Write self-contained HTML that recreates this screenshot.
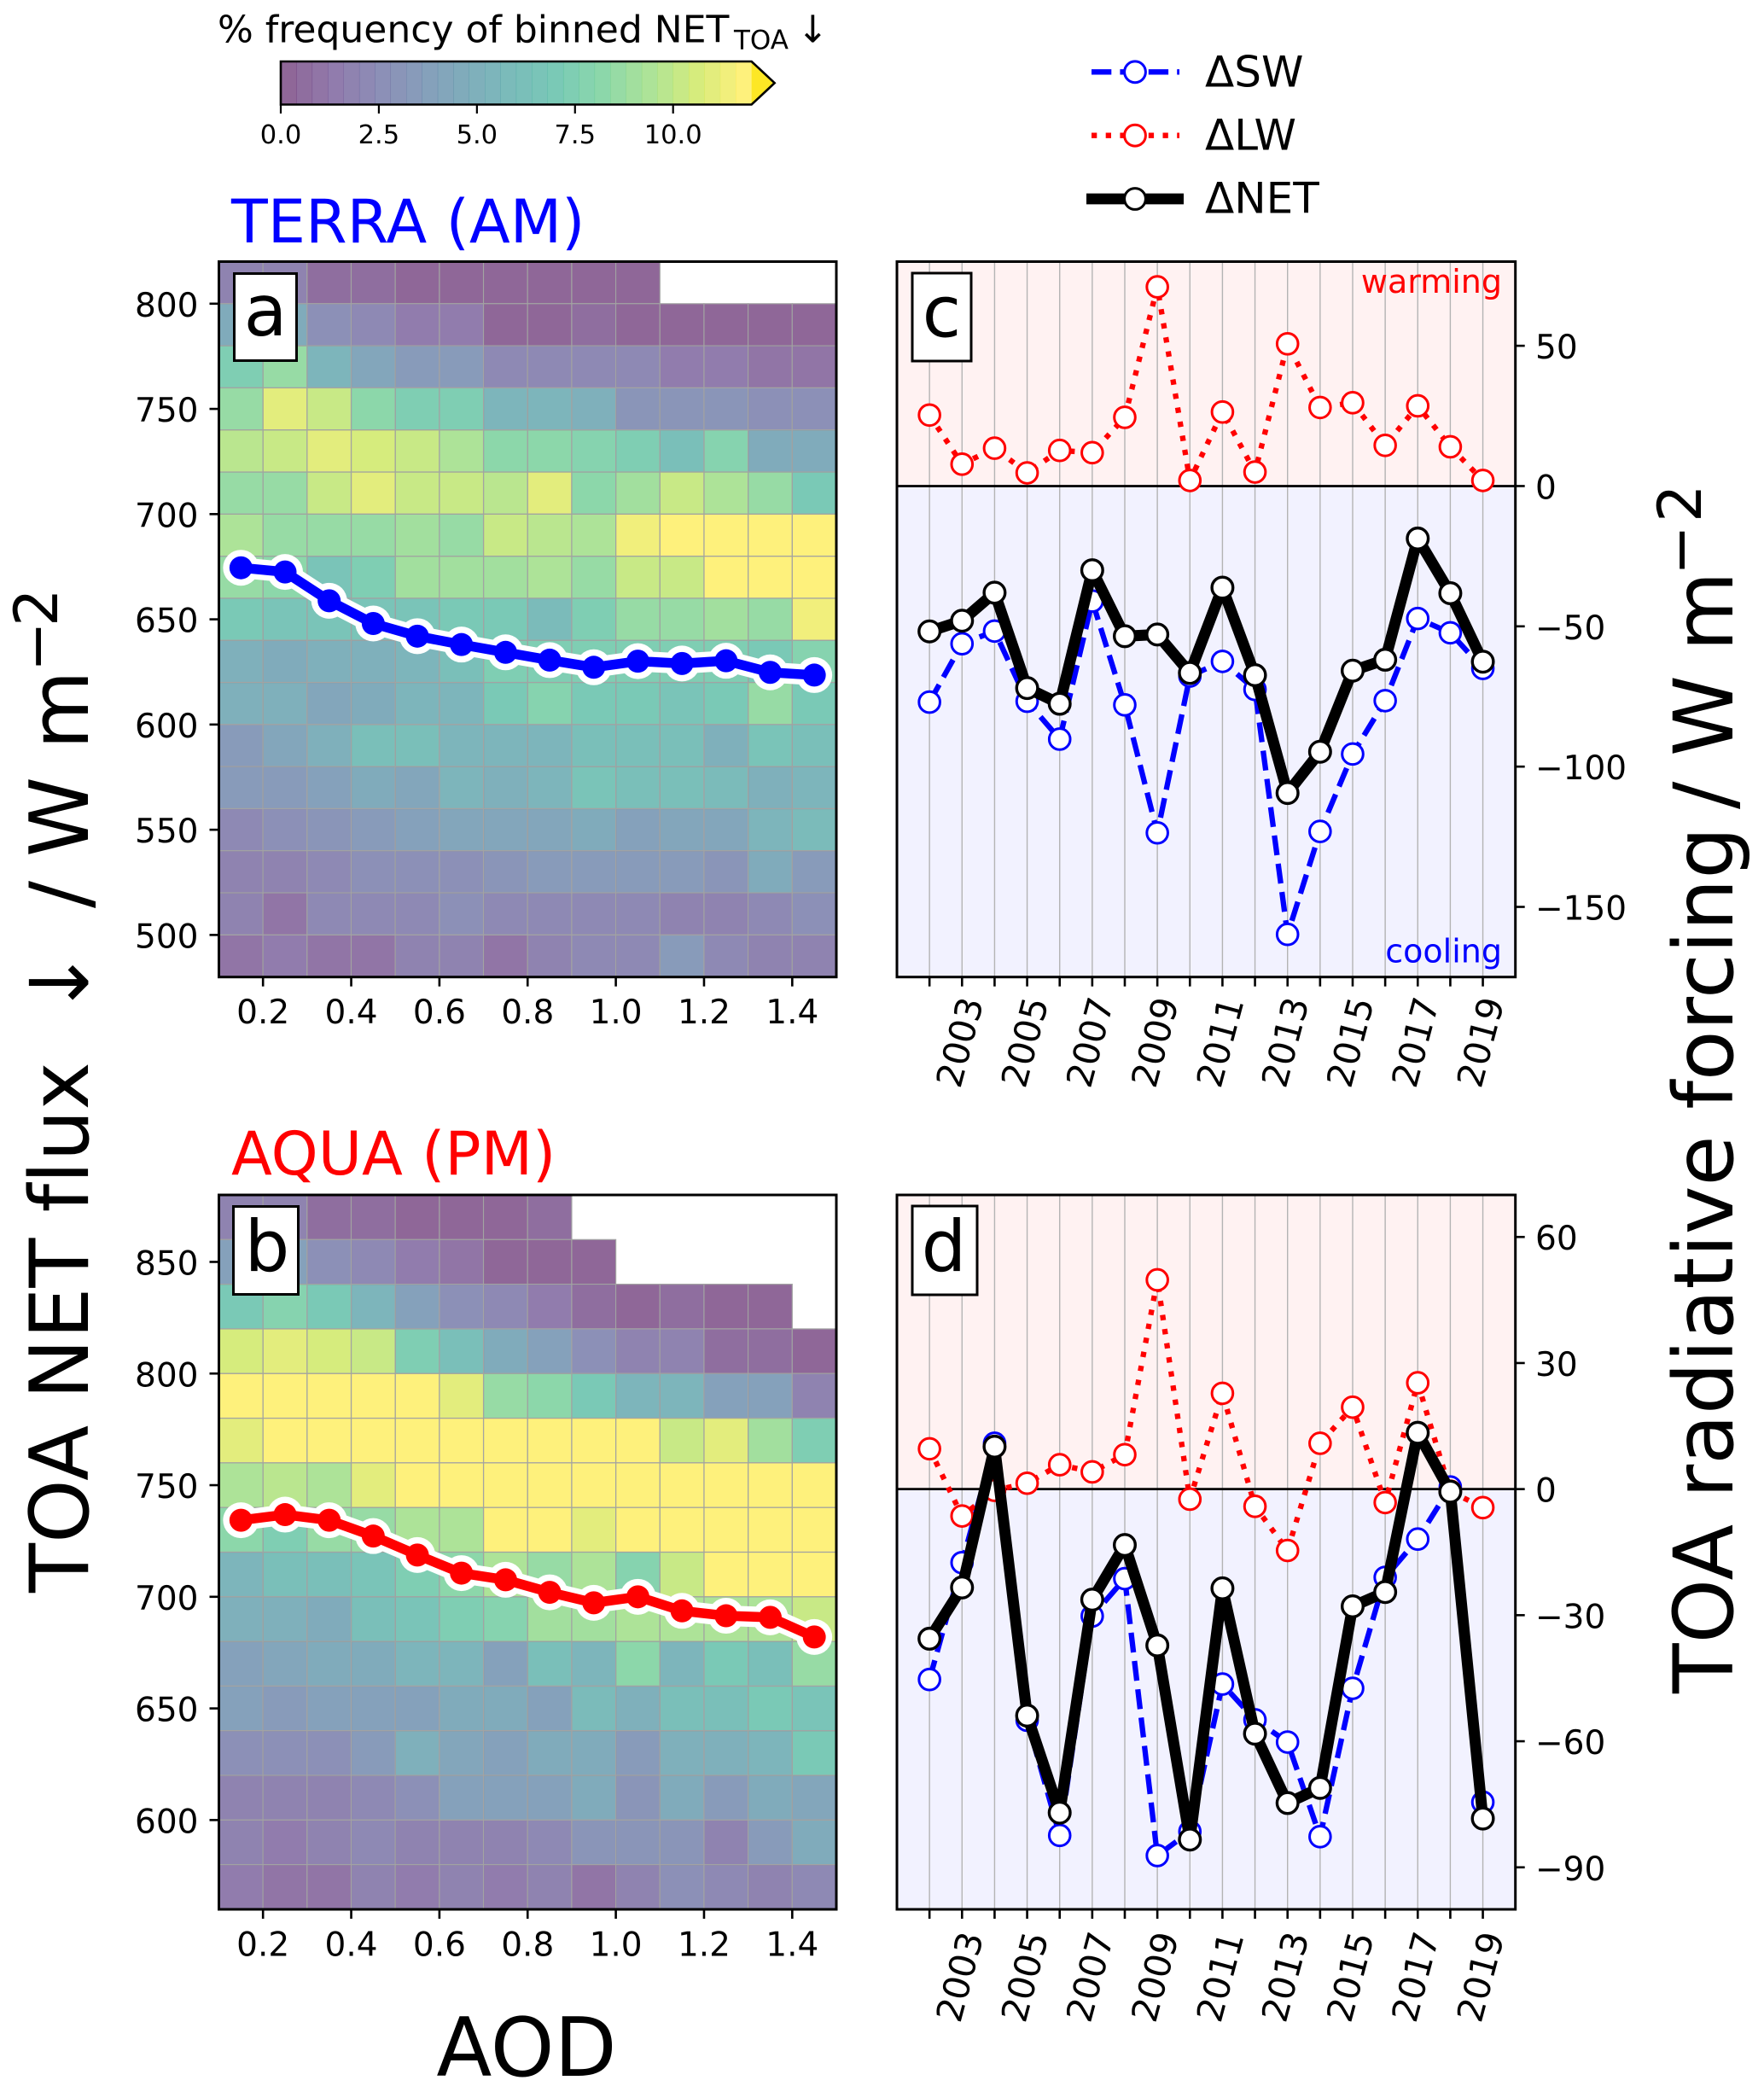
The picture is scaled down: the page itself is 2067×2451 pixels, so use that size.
<!DOCTYPE html>
<html lang="en">
<head>
<meta charset="utf-8">
<title>TOA radiative forcing figure</title>
<style>
html,body{margin:0;padding:0;background:#fff;}
svg{display:block;font-family:"DejaVu Sans","Liberation Sans",sans-serif;font-variant-ligatures:none;}
</style>
</head>
<body>
<svg id="fig" xmlns="http://www.w3.org/2000/svg" width="2067" height="2451" viewBox="0 0 2067 2451">
  <rect x="0" y="0" width="2067" height="2451" fill="#fff"/>

  <g id="colorbar"></g>
  <text x="255" y="49.5" font-size="44">% frequency of binned NET<tspan x="860" y="57.5" font-size="31">TOA</tspan><tspan x="934" y="49.5" font-size="44">↓</tspan></text>

  <text x="271" y="284" font-size="70" fill="#0000ff">TERRA (AM)</text>
  <text x="271" y="1376" font-size="70" fill="#ff0000">AQUA (PM)</text>

  <g id="panelA"></g>
  <g id="panelB"></g>
  <g id="panelC"></g>
  <g id="panelD"></g>

  <g><rect x="274.5" y="320.5" width="73" height="102" fill="#fff" stroke="#000" stroke-width="3"/><text x="311" y="393" font-size="83" text-anchor="middle">a</text></g>
  <g><rect x="273.5" y="1413.5" width="76" height="103" fill="#fff" stroke="#000" stroke-width="3"/><text x="313" y="1489" font-size="83" text-anchor="middle">b</text></g>
  <g><rect x="1069" y="320" width="69" height="103" fill="#fff" stroke="#000" stroke-width="3"/><text x="1103.5" y="394.5" font-size="83" text-anchor="middle">c</text></g>
  <g><rect x="1069" y="1413" width="76" height="104" fill="#fff" stroke="#000" stroke-width="3"/><text x="1106" y="1489" font-size="83" text-anchor="middle">d</text></g>

  <text x="1760" y="343" font-size="38" fill="#ff0000" text-anchor="end">warming</text>
  <text x="1760" y="1127.5" font-size="38" fill="#0000ff" text-anchor="end">cooling</text>

  <g>
    <g>
      <line x1="1279" y1="84.3" x2="1382" y2="84.3" stroke="#0000ff" stroke-width="6.3" stroke-dasharray="23.3 10.1"/>
      <circle cx="1330" cy="84.3" r="12.4" fill="#fff" stroke="#0000ff" stroke-width="3"/>
      <text x="1412" y="101.7" font-size="50">ΔSW</text>
    </g>
    <g>
      <line x1="1279" y1="158.7" x2="1382" y2="158.7" stroke="#ff0000" stroke-width="6.3" stroke-dasharray="6.3 10.4"/>
      <circle cx="1330" cy="158.7" r="12.4" fill="#fff" stroke="#ff0000" stroke-width="3"/>
      <text x="1412" y="175.7" font-size="50">ΔLW</text>
    </g>
    <g>
      <line x1="1273" y1="233" x2="1387" y2="233" stroke="#000" stroke-width="12.7"/>
      <circle cx="1330" cy="233" r="12.4" fill="#fff" stroke="#000" stroke-width="3"/>
      <text x="1412" y="249.5" font-size="50">ΔNET</text>
    </g>
  </g>

  <text x="617" y="2432" font-size="95" text-anchor="middle">AOD</text>

  <text transform="translate(103,1866) rotate(-90)" font-size="95"><tspan x="0" y="0">TOA NET flux</tspan><tspan x="675" y="0">↓</tspan><tspan x="802" y="0">/</tspan><tspan x="862" y="0">W</tspan><tspan x="988" y="0">m</tspan><tspan x="1079" y="-36" font-size="70">−</tspan><tspan x="1132" y="-36" font-size="70">2</tspan></text>

  <text transform="translate(2030,1984) rotate(-90)" font-size="96"><tspan x="0" y="0">TOA radiative forcing</tspan><tspan x="1036" y="0">/</tspan><tspan x="1098" y="0">W</tspan><tspan x="1221" y="0">m</tspan><tspan x="1310" y="-37" font-size="70">−</tspan><tspan x="1372" y="-37" font-size="70">2</tspan></text>
</svg>

<script>
// ---------- heatmap data ----------
const aodLeftEdges = [0.1,0.2,0.3,0.4,0.5,0.6,0.7,0.8,0.9,1.0,1.1,1.2,1.3,1.4];
const aodCenters = [0.15,0.25,0.35,0.45,0.55,0.65,0.75,0.85,0.95,1.05,1.15,1.25,1.35,1.45];
const aodTickValues = [0.2,0.4,0.6,0.8,1.0,1.2,1.4];
const aodTickLabels = ['0.2','0.4','0.6','0.8','1.0','1.2','1.4'];

const terraFluxBinBottoms = [800,780,760,740,720,700,680,660,640,620,600,580,560,540,520,500,480];
const terraFluxTicks = [800,750,700,650,600,550,500];
const terraFrequency = [
 [1.6,1.6,0.6,0.4,0.2,0.2,0.2,0.2,0.2,0.2,null,null,null,null],
 [4.8,4.5,2.6,2.0,1.4,1.4,0.3,0.3,0.6,0.2,0.2,0.2,0.2,0.2],
 [7.2,8.5,5.6,4.2,3.5,3.2,2.4,2.1,2.1,2.0,1.3,1.3,0.9,0.8],
 [8.4,11.0,10.0,8.2,7.2,7.2,5.6,5.2,5.0,3.0,3.0,3.0,2.6,2.6],
 [9.7,10.0,11.0,10.6,10.0,9.4,8.3,8.2,7.8,7.4,6.3,7.8,4.8,4.4],
 [8.6,8.4,10.0,11.0,10.0,10.2,9.7,11.0,8.3,9.1,10.0,9.5,8.4,7.1],
 [9.5,8.6,8.4,8.6,9.0,8.6,10.1,9.7,9.5,11.5,12.0,12.0,12.0,12.0],
 [8.5,8.0,6.6,7.5,9.0,9.0,9.0,9.4,8.5,10.2,10.2,12.0,12.0,12.0],
 [7.0,6.5,6.5,6.6,6.6,7.0,7.0,5.8,7.3,8.6,8.5,9.2,8.5,11.4],
 [5.0,4.8,5.0,5.0,5.4,6.0,7.5,7.6,7.4,7.2,7.2,7.4,6.8,7.7],
 [5.0,5.0,4.0,4.8,5.2,5.2,6.8,7.8,6.9,7.0,6.7,7.0,8.4,6.8],
 [3.4,4.2,5.0,6.0,6.1,5.4,5.6,5.6,6.0,6.2,6.0,5.0,6.4,6.0],
 [3.2,3.5,3.8,4.4,4.0,5.4,5.0,5.2,6.4,6.0,6.0,5.8,5.0,5.2],
 [2.3,2.6,3.0,3.5,3.6,4.0,4.2,4.0,4.8,3.7,4.2,4.0,5.6,5.8],
 [1.8,1.9,2.2,2.6,2.6,2.5,3.0,3.2,3.3,3.3,3.2,3.0,4.8,3.5],
 [1.6,1.1,2.1,2.2,2.4,2.5,2.2,2.2,2.0,2.2,1.8,1.8,2.2,2.5],
 [1.0,1.3,1.2,1.2,1.8,1.6,1.1,1.7,2.0,2.0,3.2,2.0,1.9,1.6]
];
const terraMeanFlux = [674.5,672.5,658.8,648,642,638,634.3,630.6,627.2,630.1,629,630.3,624.8,623.5];

const aquaFluxBinBottoms = [860,840,820,800,780,760,740,720,700,680,660,640,620,600,580,560];
const aquaFluxTicks = [850,800,750,700,650,600];
const aquaFrequency = [
 [1.6,1.6,0.6,0.4,0.3,0.3,0.3,0.4,null,null,null,null,null,null],
 [3.6,3.8,2.6,2.0,1.4,1.0,0.2,0.2,0.2,null,null,null,null,null],
 [7.0,7.8,7.0,5.2,3.6,2.8,2.0,1.4,0.6,0.2,0.4,0.3,0.2,null],
 [10.6,11.0,10.5,10.0,7.6,6.2,4.6,3.8,2.8,1.9,1.9,0.6,0.5,0.3],
 [12.0,12.0,12.0,12.0,12.0,11.0,8.4,8.2,7.0,5.6,5.2,3.8,3.6,1.8],
 [11.0,12.0,12.0,12.0,12.0,12.0,12.0,12.0,12.0,12.0,10.2,11.0,9.2,7.3],
 [9.5,9.7,9.4,11.0,12.0,12.0,12.0,12.0,12.0,12.0,12.0,12.0,12.0,12.0],
 [8.0,7.5,8.5,8.5,9.5,9.6,12.0,11.7,11.2,12.0,12.0,12.0,12.0,12.0],
 [5.4,6.0,6.2,6.6,7.5,8.0,9.4,8.6,9.4,7.8,10.2,12.0,12.0,12.0],
 [5.0,5.0,4.4,6.0,6.6,7.2,7.8,9.0,9.2,9.4,9.4,9.4,9.6,10.3],
 [3.6,4.0,4.4,4.6,5.2,5.4,3.8,6.2,5.6,8.3,5.4,7.0,6.2,8.5],
 [3.6,3.3,3.6,3.6,3.7,4.6,4.4,3.9,5.8,5.0,6.3,6.2,7.1,6.5],
 [2.7,2.8,2.7,3.3,5.0,4.2,3.8,4.6,4.4,3.4,5.0,5.0,5.2,7.1],
 [1.9,1.8,1.6,2.4,2.6,3.7,3.7,3.8,4.8,3.0,4.4,3.4,4.4,4.2],
 [1.7,1.4,1.7,2.2,1.6,1.7,1.7,2.0,3.0,2.9,3.0,1.7,3.2,4.6],
 [1.5,1.0,0.9,1.6,1.5,1.7,1.5,1.6,0.9,1.8,2.5,2.0,1.8,2.0]
];
const aquaMeanFlux = [734.3,736.8,734.3,727.2,718.7,710.6,707.6,702,697.3,700,693.7,691.5,690.8,682];

// ---------- forcing time series ----------
const years = [2002,2003,2004,2005,2006,2007,2008,2009,2010,2011,2012,2013,2014,2015,2016,2017,2018,2019];
const yearTickLabels = [2003,2005,2007,2009,2011,2013,2015,2017,2019];

const terraSW = [-77,-56.2,-51.7,-76.7,-90.2,-41,-78,-123.6,-67.7,-62.5,-72.5,-159.8,-123.1,-95.5,-76.5,-47.2,-52.3,-65];
const terraLW = [25.3,7.8,13.5,4.7,12.7,11.9,24.5,71,2,26.4,5,50.7,28,29.7,14.5,28.6,14,2];
const terraNET = [-51.8,-48,-38,-72,-77.6,-30,-53.5,-52.9,-66.6,-36.2,-67.4,-109.4,-94.7,-65.8,-61.9,-18.7,-38.2,-62.6];
const terraForcingTicks = [50,0,-50,-100,-150];

const aquaSW = [-45.3,-17.5,10.9,-55,-82.4,-30.2,-21.3,-87.2,-81.5,-46.4,-54.9,-60.2,-82.7,-47.4,-21,-11.9,0.5,-74.5];
const aquaLW = [9.6,-6.4,-0.3,1.4,5.8,4.1,8.2,49.8,-2.4,22.8,-4.1,-14.6,10.9,19.5,-3.2,25.3,-0.5,-4.4];
const aquaNET = [-35.6,-23.4,10.1,-53.9,-77,-26.3,-13.3,-37.2,-83.4,-23.6,-58.2,-74.7,-71.1,-27.9,-24.5,13.4,-0.6,-78.4];
const aquaForcingTicks = [60,30,0,-30,-60,-90];

// ---------- colour bar ----------
const colorbarTicks = [0,2.5,5,7.5,10];
const colorbarTickLabels = ['0.0','2.5','5.0','7.5','10.0'];
const viridisStops = ['#440154','#482475','#414487','#355f8d','#2a788e','#21918c','#22a884','#44bf70','#7ad151','#bddf26','#fde725'];

const NS = 'http://www.w3.org/2000/svg';
function scale(d0,d1,r0,r1){ return function(v){ return r0+(v-d0)*(r1-r0)/(d1-d0); }; }
function node(tag,attrs,parent){
  const el=document.createElementNS(NS,tag);
  for(const k in attrs){ el.setAttribute(k,attrs[k]); }
  parent.appendChild(el);
  return el;
}
function hex(c){ return [parseInt(c.slice(1,3),16),parseInt(c.slice(3,5),16),parseInt(c.slice(5,7),16)]; }
function viridis(t){
  const p=Math.max(0,Math.min(1,t))*(viridisStops.length-1);
  const i=Math.min(viridisStops.length-2,Math.floor(p));
  const a=hex(viridisStops[i]),b=hex(viridisStops[i+1]),f=p-i;
  return 'rgb('+[0,1,2].map(function(n){return Math.round(a[n]+(b[n]-a[n])*f);}).join(',')+')';
}
function freqColor(v){
  const level=Math.min(29,Math.floor(v/0.4));
  return viridis(level/29);
}
function minusText(v){ return v<0 ? '\u2212'+Math.abs(v) : String(v); }
function linePoints(xs,ys,xf,yf){ return xs.map(function(x,i){ return xf(x)+','+yf(ys[i]); }).join(' '); }

const AX = {left:256.5,right:980};
const FX = {left:1051,right:1775.7};

function drawHeatPanel(root,matrix,binBottoms,binSize,ticks,meanFlux,color,top,bottom,yMin,yMax,prefix){
  const xA=scale(0.1,1.5,AX.left,AX.right);
  const yA=scale(yMin,yMax,bottom,top);
  matrix.forEach(function(row,r){
    row.forEach(function(v,c){
      if(v===null) return;
      const x0=xA(aodLeftEdges[c]),x1=xA(aodLeftEdges[c]+0.1);
      const y1=yA(binBottoms[r]),y0=yA(binBottoms[r]+binSize);
      const cell=node('rect',{x:x0,y:y0,width:x1-x0,height:y1-y0,fill:freqColor(v),'fill-opacity':0.6},root);
      
      
      const edge=node('rect',{x:x0,y:y0,width:x1-x0,height:y1-y0,fill:'none',stroke:'#a3a3a3','stroke-width':1.2},root);
      
      
    });
  });
  const frame=node('rect',{x:AX.left,y:top,width:AX.right-AX.left,height:bottom-top,fill:'none',stroke:'#000','stroke-width':3},root);
  
  
  aodTickValues.forEach(function(v,i){
    const t=node('line',{x1:xA(v),x2:xA(v),y1:bottom,y2:bottom+11,stroke:'#000','stroke-width':2.6},root);
    
    
    const l=node('text',{x:xA(v),y:bottom+54.5,'font-size':39,'text-anchor':'middle'},root);
    l.textContent=aodTickLabels[i];
    
    
  });
  ticks.forEach(function(v){
    const t=node('line',{x1:AX.left-11,x2:AX.left,y1:yA(v),y2:yA(v),stroke:'#000','stroke-width':2.6},root);
    
    
    const l=node('text',{x:232.5,y:yA(v)+15,'font-size':39,'text-anchor':'end'},root);
    l.textContent=String(v);
    
    
  });
  const pts=linePoints(aodCenters,meanFlux,xA,yA);
  const halo=node('polyline',{points:pts,fill:'none',stroke:'#fff','stroke-width':24,'stroke-linejoin':'round'},root);
  
  
  aodCenters.forEach(function(x,i){
    const h=node('circle',{cx:xA(x),cy:yA(meanFlux[i]),r:21,fill:'#fff'},root);
    
    
  });
  const line=node('polyline',{points:pts,fill:'none',stroke:color,'stroke-width':11.5,'stroke-linejoin':'round'},root);
  
  
  aodCenters.forEach(function(x,i){
    const p=node('circle',{cx:xA(x),cy:yA(meanFlux[i]),r:13.5,fill:color},root);
    
    
  });
}

function drawSeries(root,vals,xF,yF,color,width,dash,stroke,label){
  const attrs={points:linePoints(years,vals,xF,yF),fill:'none',stroke:color,'stroke-width':width,'stroke-linejoin':'round'};
  if(dash) attrs['stroke-dasharray']=dash;
  const ln=node('polyline',attrs,root);
  
  
  years.forEach(function(y,i){
    const m=node('circle',{cx:xF(y),cy:yF(vals[i]),r:12.3,fill:'#fff',stroke:color,'stroke-width':stroke},root);
    
    
  });
}

function drawForcingPanel(root,sw,lw,net,ticks,top,bottom,yMin,yMax,labelY,prefix){
  const xF=scale(2001,2020,FX.left,FX.right);
  const yF=scale(yMin,yMax,bottom,top);
  const w=FX.right-FX.left;
  const warm=node('rect',{x:FX.left,y:top,width:w,height:yF(0)-top,fill:'#fff2f2'},root);
  
  
  const cool=node('rect',{x:FX.left,y:yF(0),width:w,height:bottom-yF(0),fill:'#f2f2ff'},root);
  
  
  years.forEach(function(y){
    const g=node('line',{x1:xF(y),x2:xF(y),y1:top,y2:bottom,stroke:'#b4b4b4','stroke-width':1.4},root);
    
    
    const t=node('line',{x1:xF(y),x2:xF(y),y1:bottom,y2:bottom+11,stroke:'#000','stroke-width':2.6},root);
    
    
  });
  const zero=node('line',{x1:FX.left,x2:FX.right,y1:yF(0),y2:yF(0),stroke:'#000','stroke-width':2.8},root);
  
  
  drawSeries(root,sw,xF,yF,'#0000ff',6.3,'23.3 10.1',3,prefix+'-sw');
  drawSeries(root,lw,xF,yF,'#ff0000',6.3,'6.3 10.4',3,prefix+'-lw');
  drawSeries(root,net,xF,yF,'#000000',13,null,3.4,prefix+'-net');
  const frame=node('rect',{x:FX.left,y:top,width:w,height:bottom-top,fill:'none',stroke:'#000','stroke-width':3},root);
  
  
  ticks.forEach(function(v){
    const t=node('line',{x1:FX.right,x2:FX.right+11,y1:yF(v),y2:yF(v),stroke:'#000','stroke-width':2.6},root);
    
    
    const l=node('text',{x:1799,y:yF(v)+15,'font-size':39},root);
    l.textContent=minusText(v);
    
    
  });
  yearTickLabels.forEach(function(y){
    const l=node('text',{transform:'translate('+(xF(y)-3)+','+labelY+') rotate(-75)',y:15,'font-size':42,'text-anchor':'middle'},root);
    l.textContent=String(y);
    
    
  });
}

function drawColorbar(root){
  const xC=scale(0,10,329,788.7);
  for(let i=0;i<30;i++){
    const band=node('rect',{x:xC(i*0.4),y:72,width:xC((i+1)*0.4)-xC(i*0.4)+0.3,height:50.5,fill:viridis(i/29),'fill-opacity':0.6},root);
    
    
  }
  const tip=node('polygon',{points:xC(12)+',72 '+(xC(12)+27)+',97.2 '+xC(12)+',122.5',fill:'#fde725'},root);
  
  
  const outline=node('polygon',{points:xC(0)+',72 '+xC(12)+',72 '+(xC(12)+27)+',97.2 '+xC(12)+',122.5 '+xC(0)+',122.5',fill:'none',stroke:'#000','stroke-width':2.6},root);
  
  
  colorbarTicks.forEach(function(v,i){
    const t=node('line',{x1:xC(v),x2:xC(v),y1:122.5,y2:133,stroke:'#000','stroke-width':2.2},root);
    
    
    const l=node('text',{x:xC(v),y:168,'font-size':30.5,'text-anchor':'middle'},root);
    l.textContent=colorbarTickLabels[i];
    
    
  });
}

drawColorbar(document.getElementById('colorbar'));
drawHeatPanel(document.getElementById('panelA'),terraFrequency,terraFluxBinBottoms,20,terraFluxTicks,terraMeanFlux,'#0000ff',306.5,1144.7,480,820,'terra');
drawHeatPanel(document.getElementById('panelB'),aquaFrequency,aquaFluxBinBottoms,20,aquaFluxTicks,aquaMeanFlux,'#ff0000',1400,2237,560,880,'aqua');
drawForcingPanel(document.getElementById('panelC'),terraSW,terraLW,terraNET,terraForcingTicks,306.5,1144.7,-175,80,1221,'terra-forcing');
drawForcingPanel(document.getElementById('panelD'),aquaSW,aquaLW,aquaNET,aquaForcingTicks,1400,2237,-100,70,2316,'aqua-forcing');
</script>
</body>
</html>
